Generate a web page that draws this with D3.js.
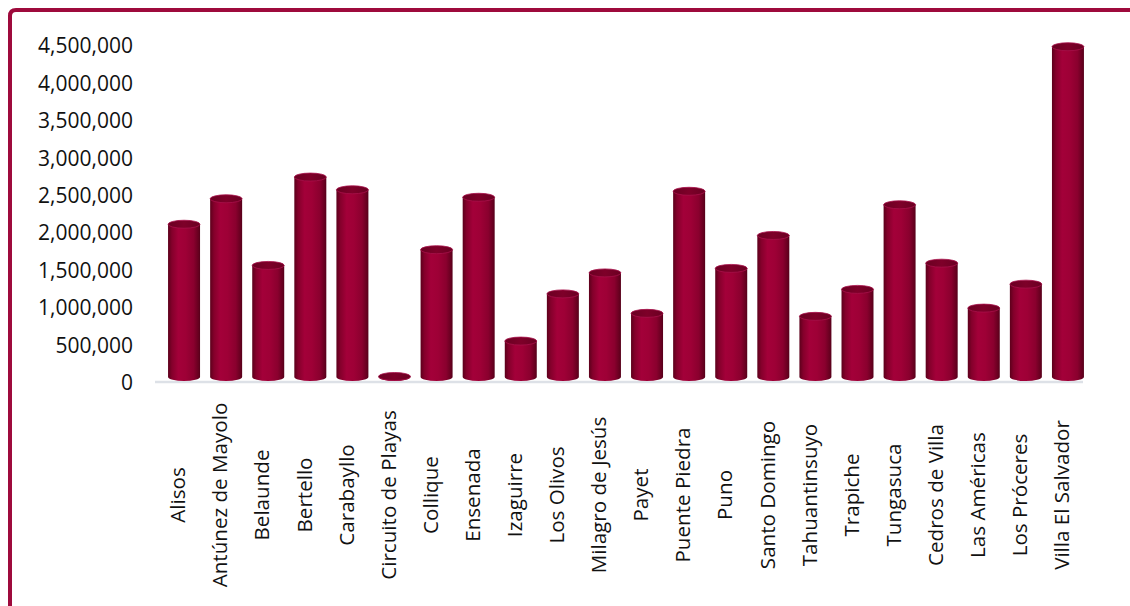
<!DOCTYPE html>
<html><head><meta charset="utf-8">
<script src="https://cdn.jsdelivr.net/npm/d3@7/dist/d3.min.js"></script>
<style>body{margin:0;background:#fff}svg{display:block}</style>
</head><body>
<script>
const categories = ["Alisos","Antúnez de Mayolo","Belaunde","Bertello","Carabayllo","Circuito de Playas","Collique","Ensenada","Izaguirre","Los Olivos","Milagro de Jesús","Payet","Puente Piedra","Puno","Santo Domingo","Tahuantinsuyo","Trapiche","Tungasuca","Cedros de Villa","Las Américas","Los Próceres","Villa El Salvador"];
const values = [2120000,2460000,1570000,2750000,2580000,60000,1780000,2480000,560000,1190000,1470000,930000,2560000,1530000,1970000,890000,1250000,2380000,1600000,1000000,1320000,4490000];
const yTicks = [0,500000,1000000,1500000,2000000,2500000,3000000,3500000,4000000,4500000];

const W = 1130, H = 606;
const svg = d3.select("body").append("svg").attr("width", W).attr("height", H);
const defs = svg.append("defs");

const grad = defs.append("linearGradient").attr("id","cyl").attr("x1","0").attr("x2","1").attr("y1","0").attr("y2","0");
[[0,"#5c001b"],[0.12,"#84002b"],[0.32,"#a30039"],[0.55,"#9e0036"],[0.8,"#8a002e"],[0.95,"#66001f"],[1,"#55001a"]]
  .forEach(([o,c])=>grad.append("stop").attr("offset",o).attr("stop-color",c));
const tgrad = defs.append("linearGradient").attr("id","top").attr("x1","0").attr("x2","1").attr("y1","0").attr("y2","0");
[[0,"#6a0022"],[0.5,"#7e0029"],[1,"#6a0022"]].forEach(([o,c])=>tgrad.append("stop").attr("offset",o).attr("stop-color",c));

// frame
svg.append("path").attr("d","M10,606 L10,16 Q10,10 16,10 L1130,10")
  .attr("fill","none").attr("stroke","#9e0a3c").attr("stroke-width",4);

const y = d3.scaleLinear().domain([0,4500000]).range([383,46]);
const x = d3.scaleBand().domain(categories).range([163,1089]).paddingInner(0.24).paddingOuter(0.12);

// y axis labels
const yAxis = d3.axisLeft(y).tickValues(yTicks).tickFormat(d3.format(",")).tickSize(0).tickPadding(0);
const ga = svg.append("g").attr("transform","translate(133,0)").call(yAxis);
ga.select(".domain").remove();
ga.selectAll("text").attr("font-family","'Open Sans', sans-serif").attr("font-size",21).attr("fill","#111");

// floor line
svg.append("line").attr("x1",155).attr("x2",1083).attr("y1",382).attr("y2",382)
  .attr("stroke","#dde1e7").attr("stroke-width",2.5);

const rx = x.bandwidth()/2, ry = 4;
const base = y(0) - 6;
const g = svg.append("g");
categories.forEach((c,i)=>{
  const cx = x(c) + rx;
  const top = Math.min(y(values[i]), base - 0.5);
  const l = cx - rx, r = cx + rx;
  g.append("path")
    .attr("d",`M${l},${top} L${l},${base} A${rx},${ry} 0 0 0 ${r},${base} L${r},${top} Z`)
    .attr("fill","url(#cyl)");
  g.append("ellipse").attr("cx",cx).attr("cy",top).attr("rx",rx).attr("ry",ry)
    .attr("fill","url(#top)").attr("stroke","#a8104a").attr("stroke-width",0.8);
});

// x labels
const xl = d3.scaleBand().domain(categories).range([157,1083]).paddingInner(0.24).paddingOuter(0.12);
const gx = svg.append("g").attr("transform","translate(0,495)")
  .call(d3.axisBottom(xl).tickSize(0).tickPadding(0));
gx.select(".domain").remove();
gx.selectAll("text").attr("transform","rotate(-90)").attr("x",0).attr("y",0)
  .attr("dy","0.35em").attr("text-anchor","middle")
  .attr("font-family","'Open Sans', sans-serif").attr("font-size",20.6).attr("fill","#111");
</script>
</body></html>
